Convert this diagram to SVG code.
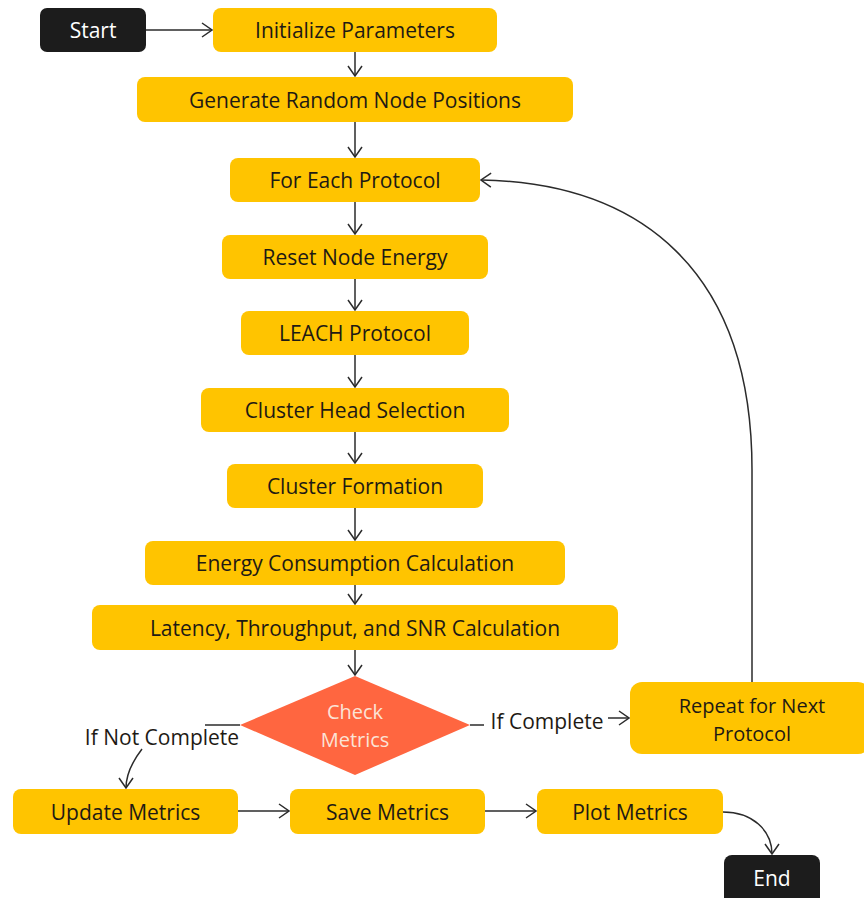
<svg xmlns="http://www.w3.org/2000/svg" width="864" height="898" viewBox="0 0 864 898">
<defs>
<style>
.box{fill:#FFC400}
.term{fill:#1c1c1c}
.t{font-family:"Open Sans","DejaVu Sans",sans-serif;font-size:21px;fill:#1e1a14;text-anchor:middle;dominant-baseline:central}
.t2{font-size:20px}
.tw{fill:#ffffff}
.td{fill:#fbe3d6}
.c{fill:none;stroke:#2b2b2b;stroke-width:1.5}
</style>
<marker id="a" viewBox="0 0 12 16" refX="11" refY="8" markerWidth="12" markerHeight="16" markerUnits="userSpaceOnUse" orient="auto">
<path d="M1,1 L11,8 L1,15" fill="none" stroke="#2b2b2b" stroke-width="1.5"/>
</marker>
</defs>
<rect width="864" height="898" fill="#ffffff"/>
<g id="connectors">
<path class="c" d="M146,30 H212" marker-end="url(#a)"/>
<path class="c" d="M355,52 V76" marker-end="url(#a)"/>
<path class="c" d="M355,122 V157" marker-end="url(#a)"/>
<path class="c" d="M355,202 V234" marker-end="url(#a)"/>
<path class="c" d="M355,279 V310" marker-end="url(#a)"/>
<path class="c" d="M355,355 V387" marker-end="url(#a)"/>
<path class="c" d="M355,432 V463" marker-end="url(#a)"/>
<path class="c" d="M355,508 V540" marker-end="url(#a)"/>
<path class="c" d="M355,585 V604" marker-end="url(#a)"/>
<path class="c" d="M355,650 V675" marker-end="url(#a)"/>
<path class="c" d="M240,725 H205"/>
<path class="c" d="M142,749 C132,762 126,774 126,788" marker-end="url(#a)"/>
<path class="c" d="M470,725 H484"/>
<path class="c" d="M608,718 H629" marker-end="url(#a)"/>
<path class="c" d="M752,682 V470 C752,270 640,183 481,180" marker-end="url(#a)"/>
<path class="c" d="M238,811 H289" marker-end="url(#a)"/>
<path class="c" d="M485,811 H536" marker-end="url(#a)"/>
<path class="c" d="M723,812 C752,812 772,830 772,854" marker-end="url(#a)"/>
<text class="t" x="162" y="737">If Not Complete</text>
<text class="t" x="547" y="721">If Complete</text>
</g>
<g id="start"><rect class="term" x="40" y="8" width="106" height="44" rx="7"/><text class="t tw" x="93" y="30">Start</text></g>
<g id="init"><rect class="box" x="213" y="8" width="284" height="44" rx="8"/><text class="t" x="355" y="30">Initialize Parameters</text></g>
<g id="generate"><rect class="box" x="137" y="77" width="436" height="45" rx="8"/><text class="t" x="355" y="99.5">Generate Random Node Positions</text></g>
<g id="foreach"><rect class="box" x="230" y="158" width="250" height="44" rx="8"/><text class="t" x="355" y="180">For Each Protocol</text></g>
<g id="reset"><rect class="box" x="222" y="235" width="266" height="44" rx="8"/><text class="t" x="355" y="257">Reset Node Energy</text></g>
<g id="leach"><rect class="box" x="241" y="311" width="228" height="44" rx="8"/><text class="t" x="355" y="333">LEACH Protocol</text></g>
<g id="chsel"><rect class="box" x="201" y="388" width="308" height="44" rx="8"/><text class="t" x="355" y="410">Cluster Head Selection</text></g>
<g id="cform"><rect class="box" x="227" y="464" width="256" height="44" rx="8"/><text class="t" x="355" y="486">Cluster Formation</text></g>
<g id="energy"><rect class="box" x="145" y="541" width="420" height="44" rx="8"/><text class="t" x="355" y="563">Energy Consumption Calculation</text></g>
<g id="latency"><rect class="box" x="92" y="605" width="526" height="45" rx="8"/><text class="t" x="355" y="627.5">Latency, Throughput, and SNR Calculation</text></g>
<g id="check"><polygon points="355,676 470,725 355,775 240,725" fill="#FF6640"/><text class="t t2 td"><tspan x="355" y="711">Check</tspan><tspan x="355" y="739">Metrics</tspan></text></g>
<g id="repeat"><rect class="box" x="630" y="682" width="240" height="72" rx="12"/><text class="t t2"><tspan x="752" y="704.5">Repeat for Next</tspan><tspan x="752" y="732.5">Protocol</tspan></text></g>
<g id="update"><rect class="box" x="13" y="789" width="225" height="45" rx="8"/><text class="t" x="125.5" y="811.5">Update Metrics</text></g>
<g id="save"><rect class="box" x="290" y="789" width="195" height="45" rx="8"/><text class="t" x="387.5" y="811.5">Save Metrics</text></g>
<g id="plot"><rect class="box" x="537" y="789" width="186" height="45" rx="8"/><text class="t" x="630" y="811.5">Plot Metrics</text></g>
<g id="end"><rect class="term" x="724" y="855" width="96" height="50" rx="8"/><text class="t tw" x="772" y="878">End</text></g>
</svg>
